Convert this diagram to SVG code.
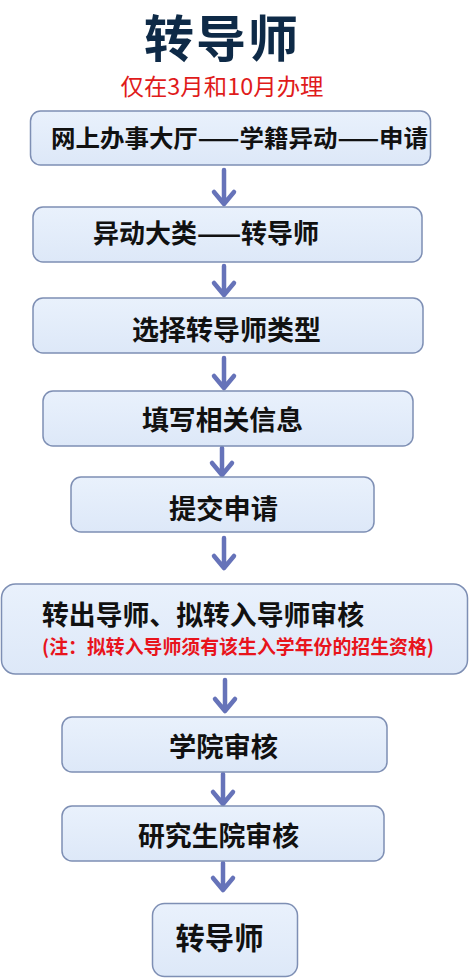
<svg xmlns="http://www.w3.org/2000/svg" width="469" height="978" viewBox="0 0 469 978">
<defs>
<linearGradient id="bg" x1="0" y1="0" x2="0" y2="1">
<stop offset="0" stop-color="#e9f1fc"/>
<stop offset="1" stop-color="#dde8f8"/>
</linearGradient>
<style>
.box{fill:url(#bg);stroke:#7e8fb4;stroke-width:1.5}
.t{font-family:"Noto Sans CJK SC","Noto Sans",sans-serif;font-weight:700;fill:#111;text-anchor:middle;dominant-baseline:central}
.red{fill:#e8141c}
.arr{stroke:#6673b9;fill:none;stroke-width:4.5;stroke-linecap:round;stroke-linejoin:round}
</style>
</defs>
<rect width="469" height="978" fill="#ffffff"/>
<g id="title">
<text class="t" x="222" y="35" font-size="50" letter-spacing="2" style="fill:#0e2a47">转导师</text>
<text class="t" x="222" y="84.5" font-size="23" style="font-weight:400;fill:#e01b1b" textLength="203" lengthAdjust="spacingAndGlyphs">仅在3月和10月办理</text>
</g>
<g id="connectors">
<path class="arr" d="M224 170V204M214 192L224 204L234 192"/>
<path class="arr" d="M224 266V295M214 283L224 295L234 283"/>
<path class="arr" d="M224 358V388M214 376L224 388L234 376"/>
<path class="arr" d="M222 448V475M212 463L222 475L232 463"/>
<path class="arr" d="M224 538V568M214 556L224 568L234 556"/>
<path class="arr" d="M225 680V711M215 699L225 711L235 699"/>
<path class="arr" d="M223 774V804M213 792L223 804L233 792"/>
<path class="arr" d="M223 863V890M213 878L223 890L233 878"/>
</g>
<g id="n1">
<rect class="box" x="30.5" y="111" width="400" height="54" rx="10"/>
<text class="t" x="239.5" y="136.5" font-size="24" textLength="377" lengthAdjust="spacingAndGlyphs">网上办事大厅——学籍异动——申请</text>
</g>
<g id="n2">
<rect class="box" x="33" y="207" width="389" height="55" rx="10"/>
<text class="t" x="206" y="231" font-size="26" textLength="226" lengthAdjust="spacingAndGlyphs">异动大类——转导师</text>
</g>
<g id="n3">
<rect class="box" x="33" y="298" width="390" height="55" rx="10"/>
<text class="t" x="226.5" y="328.5" font-size="27" textLength="189" lengthAdjust="spacingAndGlyphs">选择转导师类型</text>
</g>
<g id="n4">
<rect class="box" x="43" y="391" width="370" height="55" rx="10"/>
<text class="t" x="222.5" y="418" font-size="27" textLength="161" lengthAdjust="spacingAndGlyphs">填写相关信息</text>
</g>
<g id="n5">
<rect class="box" x="71" y="477" width="303" height="55" rx="10"/>
<text class="t" x="223.5" y="507.5" font-size="27" textLength="109" lengthAdjust="spacingAndGlyphs">提交申请</text>
</g>
<g id="n6">
<rect class="box" x="1.5" y="584" width="466" height="90" rx="14"/>
<text class="t" x="203" y="613.5" font-size="27" textLength="322" lengthAdjust="spacingAndGlyphs">转出导师、拟转入导师审核</text>
<text class="t red" x="238" y="645" font-size="19" textLength="392" lengthAdjust="spacingAndGlyphs">(注：拟转入导师须有该生入学年份的招生资格)</text>
</g>
<g id="n7">
<rect class="box" x="62" y="717" width="325" height="55" rx="10"/>
<text class="t" x="223.5" y="745.5" font-size="27" textLength="109" lengthAdjust="spacingAndGlyphs">学院审核</text>
</g>
<g id="n8">
<rect class="box" x="62" y="806" width="322" height="55" rx="10"/>
<text class="t" x="218.5" y="834.5" font-size="27" textLength="161" lengthAdjust="spacingAndGlyphs">研究生院审核</text>
</g>
<g id="n9">
<rect class="box" x="152.5" y="903.5" width="145" height="73" rx="12"/>
<text class="t" x="219.5" y="936" font-size="30" textLength="88" lengthAdjust="spacingAndGlyphs">转导师</text>
</g>
</svg>
